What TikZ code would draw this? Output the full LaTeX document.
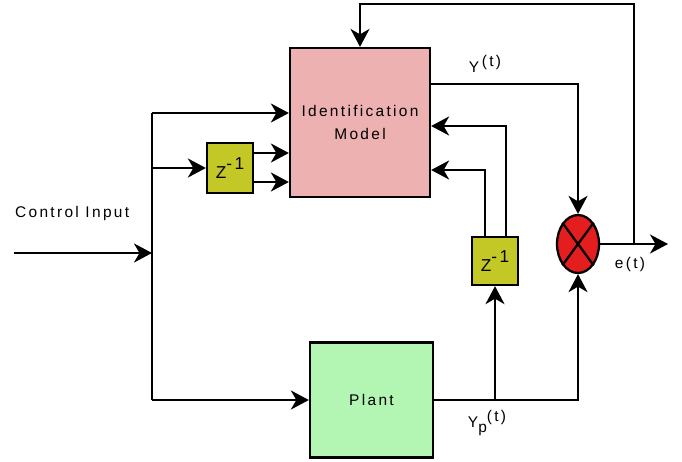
\documentclass[tikz,border=0pt]{standalone}
\usepackage{fontspec}
\setmainfont{Liberation Sans}[LetterSpace=15]
\usetikzlibrary{positioning, calc, shapes.geometric}
\usetikzlibrary{arrows, arrows.meta}
\definecolor{identpink}{HTML}{EDB1B1}
\definecolor{delayolive}{HTML}{C4C826}
\definecolor{sumred}{HTML}{E41E1E}
\definecolor{plantgreen}{HTML}{B3F5B3}
\tikzset{myarrow/.style={-{Stealth[length=3.6mm, width=3.8mm, inset=1.1mm]}}}
\tikzset{blockbox/.style={draw, line width=1.3pt, inner sep=0pt, align=center}}
\tikzset{beschriftung/.style={font=\fontsize{8.8}{13.5}\selectfont}}

\begin{document}
\begin{tikzpicture}[x=0.02cm, y=-0.02cm, line width=1.3pt, beschriftung]
		\useasboundingbox (0,0) rectangle (682,461);

		% BLOECKE
		\node[blockbox, fill=identpink, minimum width=2.8cm, minimum height=2.98cm] (ident) at (360,122.5) {Identification\\Model};
		\node[blockbox, fill=delayolive, minimum width=0.92cm, minimum height=1cm, font=\fontsize{9.8}{11}\selectfont] (zleft) at (230,168) {Z\raisebox{5pt}{-1}};
		\node[blockbox, fill=delayolive, minimum width=0.92cm, minimum height=0.96cm, font=\fontsize{9.8}{11}\selectfont] (zright) at (495,261) {Z\raisebox{5pt}{-1}};
		\node[blockbox, fill=plantgreen, minimum width=2.46cm, minimum height=2.3cm] (plant) at (371.5,400) {Plant};
		\node[blockbox, ellipse, fill=sumred, minimum width=0.84cm, minimum height=1.16cm] (sum) at (578,244) {};
		\draw (sum.north west) -- (sum.south east);
		\draw (sum.north east) -- (sum.south west);

		% EINGANG
		\coordinate (cin) at (14,253);
		\coordinate (bustop) at (152,113);
		\coordinate (busmid) at (152,168);
		\coordinate (busbot) at (152,400);
		\node[above right=0.62cm and 0cm of cin, anchor=south west, inner sep=0pt] (cinText) {Control Input};
		\draw[myarrow] (cin) -- (cin -| bustop);
		\draw (bustop) -- (busbot);
		\draw[myarrow] (bustop) -- (bustop -| ident.west);
		\draw[myarrow] (busmid) -- (zleft.west);
		\draw[myarrow] ([yshift= 0.3cm]zleft.east) -- ([yshift= 0.3cm]zleft.east -| ident.west);
		\draw[myarrow] ([yshift=-0.28cm]zleft.east) -- ([yshift=-0.28cm]zleft.east -| ident.west);
		\draw[myarrow] (busbot) -- (plant.west);

		% AUSGANG PLANT
		\draw[myarrow] (plant.east) -| (sum.south);
		\draw[myarrow] (plant.east -| zright.south) -- (zright.south);
		\draw[myarrow] ([xshift=-0.2cm]zright.north) |- ([yshift=-0.95cm]ident.east);
		\draw[myarrow] ([xshift= 0.22cm]zright.north) |- ([yshift=-0.07cm]ident.east);
		\node[inner sep=0pt] (ypText) at (487,423) {Y\raisebox{-3pt}{p}\raisebox{3pt}{(t)}};

		% AUSGANG MODELL
		\draw[myarrow] ([yshift=0.77cm]ident.east) -| (sum.north);
		\node[inner sep=0pt] (yText) at (485,64) {Y\,\raisebox{3pt}{(t)}};

		% FEHLER
		\coordinate (eout) at (668,244);
		\coordinate (fbtop) at (634,4);
		\draw[myarrow] (sum.east) -- (eout);
		\draw[myarrow] (sum.east -| fbtop) -- (fbtop) -| (ident.north);
		\node[inner sep=0pt] (eText) at (630,264) {e(t)};
	\end{tikzpicture}
\end{document}
